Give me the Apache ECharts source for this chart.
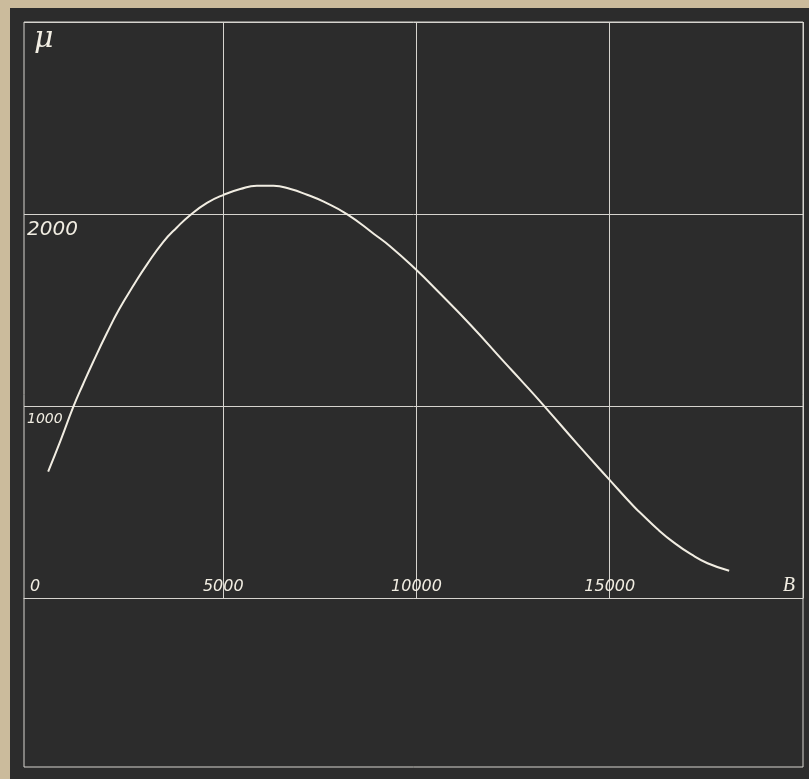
<!DOCTYPE html>
<html>
<head>
<meta charset="utf-8">
<script src="https://cdn.jsdelivr.net/npm/echarts@6/dist/echarts.min.js"></script>
<style>
  html, body { margin: 0; padding: 0; background: #cbbb9c; }
  #chart { position: absolute; left: 10px; top: 8px; width: 799px; height: 771px; }
</style>
</head>
<body>
<div id="chart"></div>
<script>
// B (induction) values along the curve
let inductionB = [470, 800, 1120, 1370, 1630, 1990, 2310, 2700, 3020, 3450, 3800, 4150, 4580, 5010, 5440, 5870, 6300, 6740, 7170, 7600, 8210, 8900, 9330, 9980, 10540, 11400, 12260, 12700, 13300, 14170, 14960, 15630, 15810, 16240, 16670, 17100, 17530, 18090]
// permeability mu
let permeabilityMu = [658, 825, 995, 1112, 1228, 1380, 1505, 1635, 1735, 1855, 1930, 1995, 2058, 2100, 2130, 2147, 2147, 2130, 2100, 2064, 1998, 1896, 1830, 1712, 1600, 1422, 1231, 1135, 1001, 800, 623, 475, 440, 358, 287, 228, 181, 142]

let xTicks = [5000, 10000, 15000, 20000]
let xTickLabels = [0, 5000, 10000, 15000]
let yTicks = [0, 1000, 2000, 3000]
let yTickLabels = [1000, 2000]

let lineColor = '#d6d4cf'
let inkColor = '#f1ede2'
let labelFont = 'DejaVu Sans'

let seriesData = inductionB.map((b, i) => [b, permeabilityMu[i]])

let echart = echarts.init(document.getElementById('chart'))

let options = {
  backgroundColor: '#2c2c2c',
  animation: false,
  grid: [
    // plotting area, B axis at its bottom
    { left: 14, top: 14, right: 6, bottom: 181 },
    // outer frame incl. the empty panel below the B axis
    {
      left: 14,
      top: 14,
      right: 6,
      bottom: 12,
      show: true,
      borderColor: lineColor,
      borderWidth: 1,
      backgroundColor: 'transparent'
    }
  ],
  xAxis: [{
    type: 'value',
    gridIndex: 0,
    min: -155,
    max: 20000,
    name: 'B',
    nameLocation: 'end',
    nameGap: -8,
    nameTextStyle: {
      color: inkColor,
      fontFamily: 'Liberation Serif',
      fontStyle: 'italic',
      fontSize: 20,
      align: 'right',
      verticalAlign: 'bottom',
      padding: [0, 0, 2, 0]
    },
    axisLine: { show: true, lineStyle: { color: lineColor, width: 1 } },
    axisTick: { show: false, customValues: xTicks },
    splitLine: { show: true, lineStyle: { color: lineColor, width: 1 } },
    axisLabel: {
      inside: true,
      margin: 3,
      customValues: xTickLabels,
      color: inkColor,
      fontFamily: labelFont,
      fontStyle: 'italic',
      fontSize: 16,
      formatter: (value) => value === 0 ? '{z|0}' : String(value),
      rich: {
        z: { padding: [0, 0, 0, 10], color: inkColor, fontFamily: labelFont, fontStyle: 'italic', fontSize: 16 }
      }
    }
  }, {
    type: 'value',
    gridIndex: 1,
    show: false
  }],
  yAxis: [{
    type: 'value',
    gridIndex: 0,
    min: 0,
    max: 3000,
    name: 'μ',
    nameLocation: 'end',
    nameGap: -2,
    nameTextStyle: {
      color: inkColor,
      fontFamily: 'DejaVu Serif',
      fontStyle: 'italic',
      fontSize: 30,
      align: 'left',
      verticalAlign: 'top',
      padding: [0, 0, 0, 4]
    },
    axisLine: { show: false },
    axisTick: { show: false, customValues: yTicks },
    splitLine: { show: true, lineStyle: { color: lineColor, width: 1 } },
    axisLabel: {
      inside: true,
      margin: 3,
      customValues: yTickLabels,
      verticalAlign: 'top',
      padding: [6, 0, 0, 0],
      color: inkColor,
      fontFamily: labelFont,
      fontStyle: 'italic',
      fontSize: 14,
      formatter: (value) => value === 2000 ? '{big|2000}' : String(value),
      rich: {
        big: { color: inkColor, fontFamily: labelFont, fontStyle: 'italic', fontSize: 20 }
      }
    }
  }, {
    type: 'value',
    gridIndex: 1,
    show: false
  }],
  series: [{
    type: 'line',
    xAxisIndex: 0,
    yAxisIndex: 0,
    data: seriesData,
    smooth: 0.5,
    showSymbol: false,
    lineStyle: { color: inkColor, width: 2 }
  }]
}

echart.setOption(options)
</script>
</body>
</html>
